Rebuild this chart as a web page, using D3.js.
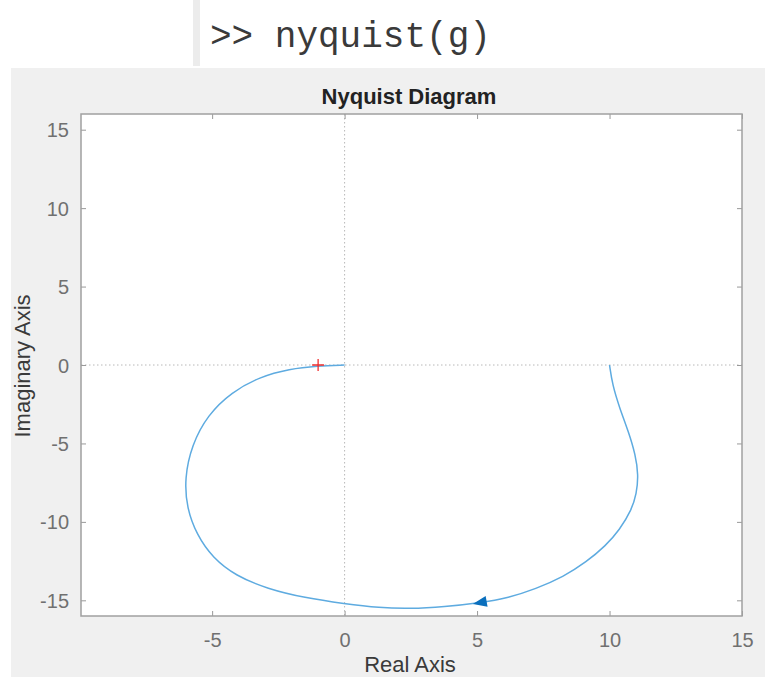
<!DOCTYPE html>
<html><head><meta charset="utf-8">
<script src="https://cdn.jsdelivr.net/npm/d3@7"></script>
<style>body{margin:0;background:#fff;} svg{display:block;}</style>
</head><body>
<svg id="c" width="765" height="677"></svg>
<script>
// Data (Nyquist curve, real and imaginary parts)
const curveRe = [10, 10.11, 10.38, 10.72, 10.98, 11.09, 11.02, 10.83, 10.38, 9.85, 9.13, 8.26, 7.21, 6.19, 5.09, 3.77, 2.45, 1.32, 0, -1.51, -2.91, -4.11, -4.98, -5.58, -5.96, -6.04, -5.77, -5.17, -4.26, -3.21, -2.08, -1.02, 0];
const curveIm = [0, -1.27, -2.74, -4.27, -5.73, -7.01, -8.22, -9.24, -10.51, -11.53, -12.55, -13.50, -14.27, -14.84, -15.16, -15.41, -15.54, -15.48, -15.22, -14.84, -14.27, -13.44, -12.29, -10.83, -9.11, -7.20, -5.10, -3.18, -1.72, -0.76, -0.25, -0.06, 0];
const xTicks = [-5, 0, 5, 10, 15];
const yTicks = [-15, -10, -5, 0, 5, 10, 15];
const xDomain = [-9.95, 15];
const yDomain = [-16, 16];
const criticalPoint = [-1, 0];
const arrowPoint = [5.1, -15.15];
const titleText = "Nyquist Diagram";
const xLabel = "Real Axis";
const yLabel = "Imaginary Axis";
const command = ">> nyquist(g)";

const svg = d3.select("#c");
// top command area
svg.append("rect").attr("x",193).attr("y",0).attr("width",7).attr("height",66).attr("fill","#ececec");
svg.append("text").attr("x",210).attr("y",47).attr("font-family","'Liberation Mono', 'Courier New', monospace")
  .attr("font-size",36).attr("fill","#3a3a3a").text(command);
// figure background
svg.append("rect").attr("x",11).attr("y",68).attr("width",754).attr("height",609).attr("fill","#f0f0f0");

const L = 81, R = 742, T = 114, B = 616;
const x = d3.scaleLinear().domain(xDomain).range([L, R]);
const y = d3.scaleLinear().domain(yDomain).range([B, T]);

svg.append("rect").attr("x",L).attr("y",T).attr("width",R-L).attr("height",B-T).attr("fill","#fff");

// zero lines
svg.append("line").attr("x1",L).attr("x2",R).attr("y1",y(0)).attr("y2",y(0))
  .attr("stroke","#b8b8b8").attr("stroke-dasharray","1.5,2.5");
svg.append("line").attr("y1",T).attr("y2",B).attr("x1",x(0)).attr("x2",x(0))
  .attr("stroke","#b8b8b8").attr("stroke-dasharray","1.5,2.5");

// axes
const tickCol = "#707070";
const fontFam = "'Liberation Sans', Arial, Helvetica, sans-serif";
const fmt = d => d < 0 ? "-" + Math.abs(d) : String(d);
const gx = svg.append("g").attr("transform",`translate(0,${B})`)
  .call(d3.axisBottom(x).tickValues(xTicks).tickSize(-5).tickFormat(fmt));
const gxt = svg.append("g").attr("transform",`translate(0,${T})`)
  .call(d3.axisTop(x).tickValues(xTicks).tickSize(-5).tickFormat(""));
const gy = svg.append("g").attr("transform",`translate(${L},0)`)
  .call(d3.axisLeft(y).tickValues(yTicks).tickSize(-5).tickFormat(fmt));
const gyr = svg.append("g").attr("transform",`translate(${R},0)`)
  .call(d3.axisRight(y).tickValues(yTicks).tickSize(-5).tickFormat(""));
[gx,gxt,gy,gyr].forEach(g=>{
  g.select(".domain").remove();
  g.selectAll(".tick line").attr("stroke","#999");
  g.selectAll("text").attr("fill",tickCol).attr("font-size",20).attr("font-family",fontFam);
});
gx.selectAll(".tick text").attr("y",31).attr("dy",null);
gy.selectAll(".tick text").attr("x",-12).attr("dy","0.35em");

// box
svg.append("rect").attr("x",L).attr("y",T).attr("width",R-L).attr("height",B-T)
  .attr("fill","none").attr("stroke","#a0a0a0").attr("stroke-width",1.5);

// curve
const pts = curveRe.map((d,i)=>[d, curveIm[i]]);
const line = d3.line().x(d=>x(d[0])).y(d=>y(d[1])).curve(d3.curveBasis);
svg.append("path").attr("d",line(pts)).attr("fill","none").attr("stroke","#5eabe0").attr("stroke-width",1.5);

// arrow (pointing left along the path)
const ax = x(arrowPoint[0]), ay = y(arrowPoint[1]);
svg.append("path").attr("d",d3.line()([[ax-7,ay],[ax+7,ay-5.5],[ax+7,ay+5.5]])+"Z")
  .attr("fill","#0a6fbd").attr("transform",`rotate(-10,${ax},${ay})`);

// critical point
const cx = x(criticalPoint[0]), cy = y(criticalPoint[1]);
svg.append("path").attr("d",`M${cx-6},${cy}H${cx+6}M${cx},${cy-6}V${cy+6}`).attr("stroke","#f03030").attr("stroke-width",1.3);

// labels
svg.append("text").attr("x",409).attr("y",104).attr("text-anchor","middle").attr("font-family",fontFam)
  .attr("font-weight","bold").attr("font-size",22).attr("fill","#222").text(titleText);
svg.append("text").attr("x",410).attr("y",672).attr("text-anchor","middle").attr("font-family",fontFam)
  .attr("font-size",22).attr("fill","#3a3a3a").text(xLabel);
svg.append("text").attr("transform",`translate(30,366) rotate(-90)`).attr("text-anchor","middle").attr("font-family",fontFam)
  .attr("font-size",22).attr("fill","#3a3a3a").text(yLabel);
</script>
</body></html>
